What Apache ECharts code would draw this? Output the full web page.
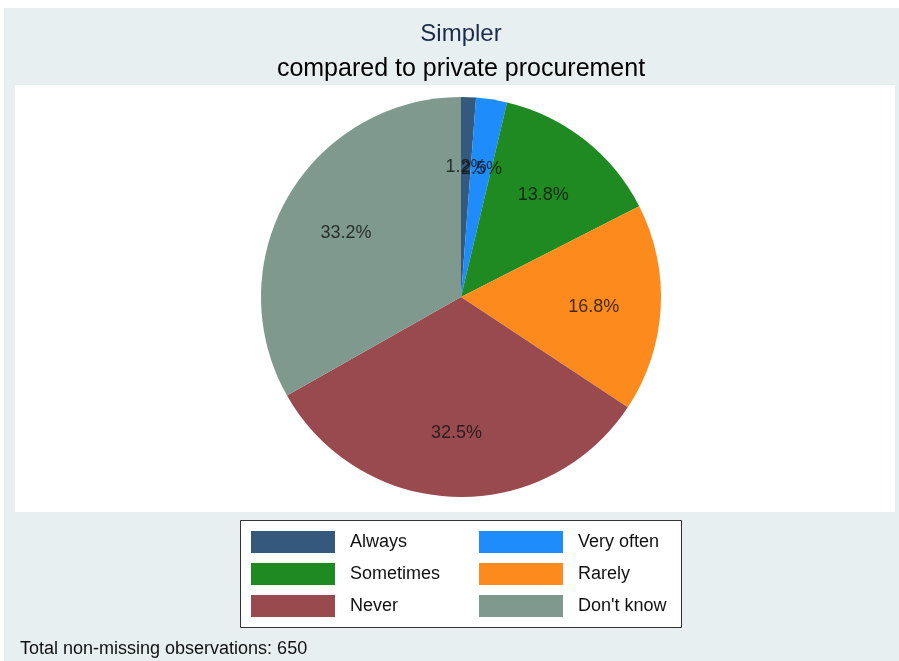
<!DOCTYPE html>
<html>
<head>
<meta charset="utf-8">
<script src="https://cdn.jsdelivr.net/npm/echarts@6/dist/echarts.min.js"></script>
<style>
  html, body { margin: 0; padding: 0; background: #fff; }
  #chart { width: 899px; height: 661px; }
</style>
</head>
<body>
<div id="chart"></div>
<script>
var categories = ['Always', 'Very often', 'Sometimes', 'Rarely', 'Never', "Don't know"];
var shares = [1.2, 2.5, 13.8, 16.8, 32.5, 33.2];
var colors = ['#34597c', '#1e8cfb', '#1f8a22', '#fd8a1c', '#984a4f', '#7f998f'];
var leftLegend = ['Always', 'Sometimes', 'Never'];
var rightLegend = ['Very often', 'Rarely', "Don't know"];

var font = 'Liberation Sans, Arial, sans-serif';
var chart = echarts.init(document.getElementById('chart'));

var pieData = categories.map(function (name, i) {
  return { name: name, value: shares[i], itemStyle: { color: colors[i] } };
});

// label anchors: middle of each slice, two thirds of the way out (Stata style)
var total = shares.reduce(function (a, b) { return a + b; }, 0);
var labelPoints = [];
var acc = 0;
shares.forEach(function (v) {
  labelPoints.push({ value: [133, acc + v / 2], pct: v / total * 100 });
  acc += v;
});

var legendBase = {
  orient: 'vertical',
  top: 529,
  padding: 0,
  itemWidth: 84,
  itemHeight: 22,
  itemGap: 6,
  icon: 'rect',
  selectedMode: false,
  textStyle: { fontFamily: font, fontSize: 18, color: '#111', padding: [0, 0, 0, 10], lineHeight: 26 }
};

var option = {
  backgroundColor: '#ffffff',
  animation: false,
  color: colors,
  title: [
    {
      text: 'Simpler',
      left: 461, top: 22, textAlign: 'center', padding: 0,
      textStyle: { fontFamily: font, fontSize: 24, fontWeight: 'normal', color: '#1c2b4d' }
    },
    {
      text: 'compared to private procurement',
      left: 461, top: 57, textAlign: 'center', padding: 0,
      textStyle: { fontFamily: font, fontSize: 25, fontWeight: 'normal', color: '#000' }
    }
  ],
  graphic: [
    { type: 'rect', z: -10, shape: { x: 4, y: 8, width: 895, height: 653 }, style: { fill: '#e8eff1' } },
    { type: 'rect', z: -9, shape: { x: 15, y: 85, width: 880, height: 427 }, style: { fill: '#ffffff' } },
    { type: 'rect', z: -9, shape: { x: 240.5, y: 520.5, width: 441, height: 107 },
      style: { fill: '#ffffff', stroke: '#333', lineWidth: 1 } },
    { type: 'text', left: 20, top: 640,
      style: { text: 'Total non-missing observations: 650', font: '18px ' + font, fill: '#111' } }
  ],
  legend: [
    Object.assign({ left: 251, data: leftLegend }, legendBase),
    Object.assign({ left: 479, data: rightLegend }, legendBase)
  ],
  polar: { center: [461, 297], radius: 200 },
  angleAxis: { type: 'value', min: 0, max: total, startAngle: 90, clockwise: true, show: false },
  radiusAxis: { type: 'value', min: 0, max: 200, show: false },
  series: [
    {
      type: 'pie',
      center: [461, 297],
      radius: [0, 200],
      startAngle: 90,
      clockwise: true,
      silent: true,
      itemStyle: { borderWidth: 0 },
      label: { show: false },
      labelLine: { show: false },
      data: pieData
    },
    {
      type: 'scatter',
      coordinateSystem: 'polar',
      symbolSize: 0,
      silent: true,
      z: 5,
      label: {
        show: true,
        position: 'inside',
        offset: [0, 3],
        fontFamily: font,
        fontSize: 18,
        color: '#111',
        formatter: function (p) { return p.data.pct.toFixed(1) + '%'; }
      },
      data: labelPoints
    }
  ]
};

chart.setOption(option);
</script>
</body>
</html>
